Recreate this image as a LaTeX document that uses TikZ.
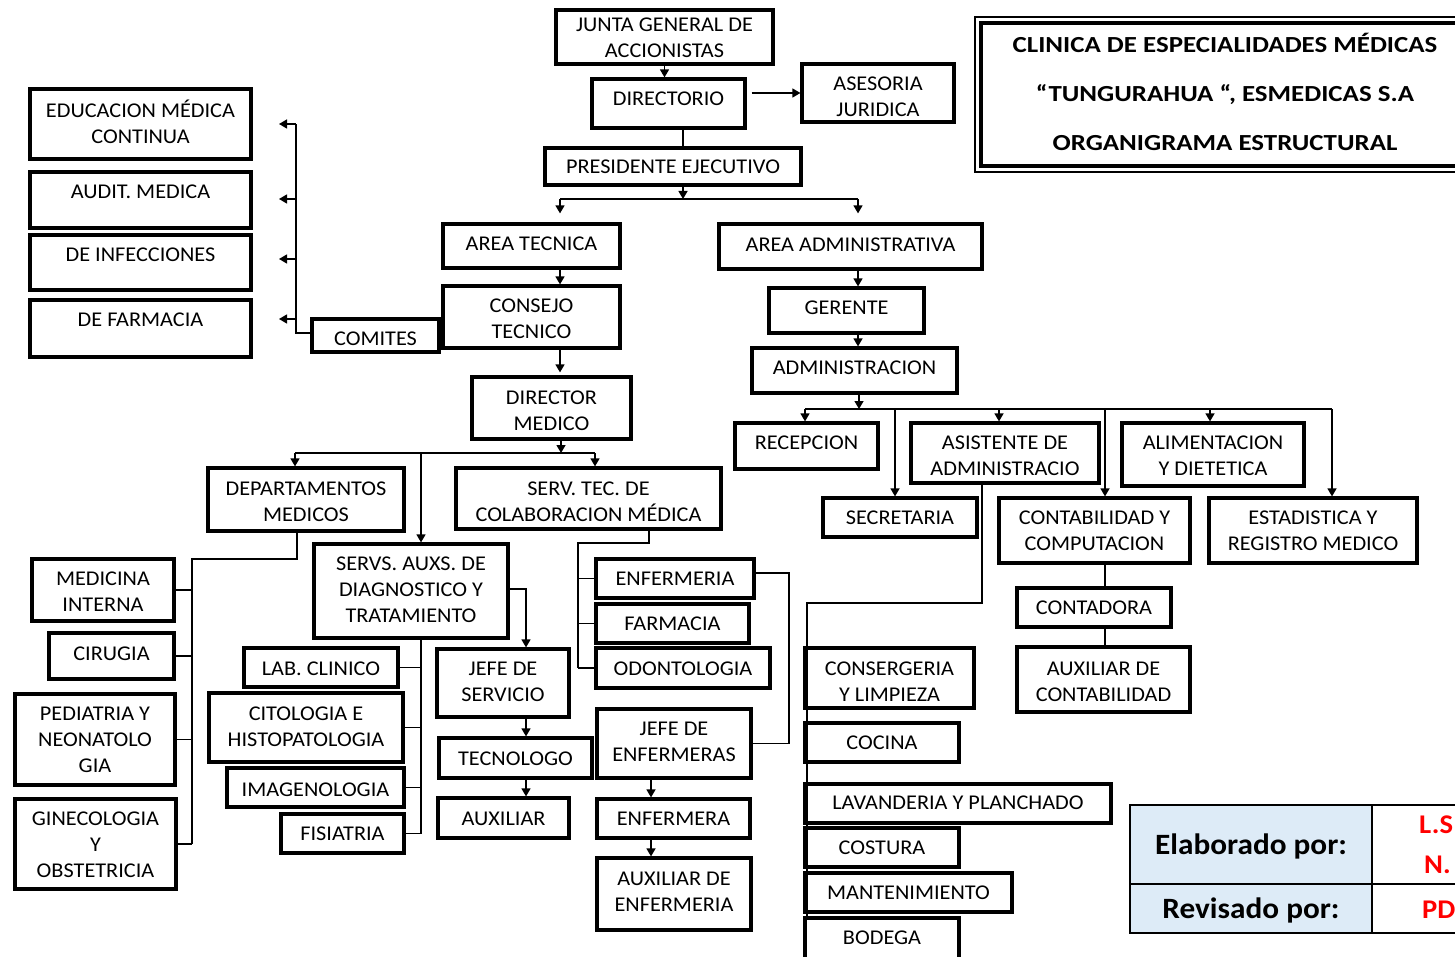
\documentclass[tikz,border=0pt]{standalone}
\usepackage{fontspec}
\setmainfont{Carlito}[FakeStretch=1.06]
\newfontfamily\titlefont{Carlito}[FakeStretch=1.17]
\usetikzlibrary{arrows.meta}
\definecolor{cellblue}{HTML}{DDEBF7}
\tikzset{
  box/.style={draw, line width=3.2pt, inner sep=0pt},
  txt/.style={font=\fontsize{21}{26}\selectfont, align=center, inner sep=0pt},
  link/.style={line width=1.4pt},
  arr/.style={link, -{Triangle[width=9pt,length=8pt]}},
  cell/.style={draw, line width=2.2pt, outer sep=0pt, inner sep=0pt, text depth=0pt,
    font=\bfseries\fontsize{29.5}{32}\selectfont},
  redtxt/.style={text=red, inner sep=0pt, font=\bfseries\fontsize{27}{30}\selectfont},
}
% \bx{name}{left}{top}{right}{bottom}{text centre y}{text}
\newcommand\bx[7]{%
  \node[box, minimum width={#4-#2}, minimum height={#5-#3},
    label={[txt, yshift={(#3+#5)/2-#6}]center:{#7}}]
    (#1) at ({(#2+#4)/2},{(#3+#5)/2}) {};}
\begin{document}
\begin{tikzpicture}[x=1pt,y=-1pt]
\useasboundingbox (0,0) rectangle (1455,957);
\fill[white] (0,0) rectangle (1455,957);

% governing bodies
\bx{junta}{556}{10}{773}{64}{38}{JUNTA GENERAL DE\\ACCIONISTAS}
\bx{dir}{592}{79}{745}{128}{99}{DIRECTORIO}
\bx{ases}{802}{64}{954}{122}{97}{ASESORIA\\JURIDICA}
\bx{pres}{545}{148}{801}{185}{167}{PRESIDENTE EJECUTIVO}

% technical area
\bx{atec}{443}{224}{620}{268}{244}{AREA TECNICA}
\bx{cons}{443}{286}{620}{348}{319}{CONSEJO\\TECNICO}
\bx{comi}{312}{319}{439}{352}{339}{COMITES}
\bx{educ}{30}{89}{251}{159}{122}{EDUCACION MÉDICA\\CONTINUA}
\bx{audi}{30}{172}{251}{228}{192}{AUDIT. MEDICA}
\bx{infe}{30}{235}{251}{290}{255}{DE INFECCIONES}
\bx{farm}{30}{300}{251}{357}{320}{DE FARMACIA}
\bx{dmed}{472}{377}{631}{439}{411}{DIRECTOR\\MEDICO}

% administrative area
\bx{aadm}{719}{224}{982}{269}{245}{AREA ADMINISTRATIVA}
\bx{gere}{769}{288}{924}{333}{308}{GERENTE}
\bx{admi}{752}{348}{957}{393}{368}{ADMINISTRACION}
\bx{rece}{735}{423}{878}{469}{443}{RECEPCION}
\bx{asis}{911}{423}{1099}{483}{456}{ASISTENTE DE\\ADMINISTRACIO}
\bx{alim}{1122}{423}{1304}{486}{456}{ALIMENTACION\\Y DIETETICA}
\bx{secr}{823}{498}{977}{537}{518}{SECRETARIA}
\bx{cont}{999}{498}{1190}{563}{531}{CONTABILIDAD Y\\COMPUTACION}
\bx{esta}{1209}{498}{1417}{563}{531}{ESTADISTICA Y\\REGISTRO MEDICO}
\bx{ctdr}{1017}{588}{1171}{627}{608}{CONTADORA}
\bx{auxc}{1017}{647}{1190}{712}{682}{AUXILIAR DE\\CONTABILIDAD}
\bx{cnsg}{805}{648}{974}{708}{682}{CONSERGERIA\\Y LIMPIEZA}
\bx{coci}{805}{723}{959}{762}{743}{COCINA}
\bx{lava}{805}{784}{1111}{823}{803}{LAVANDERIA Y PLANCHADO}
\bx{cost}{805}{828}{959}{867}{848}{COSTURA}
\bx{mant}{805}{873}{1012}{912}{893}{MANTENIMIENTO}
\bx{bode}{805}{918}{959}{962}{938}{BODEGA}

% medical direction
\bx{dpto}{208}{468}{404}{531}{502}{DEPARTAMENTOS\\MEDICOS}
\bx{stec}{456}{468}{721}{529}{502}{SERV. TEC. DE\\COLABORACION MÉDICA}
\bx{saux}{314}{544}{508}{638}{590}{SERVS. AUXS. DE\\DIAGNOSTICO Y\\TRATAMIENTO}
\bx{mint}{32}{559}{174}{621}{592}{MEDICINA\\INTERNA}
\bx{ciru}{49}{633}{174}{679}{654}{CIRUGIA}
\bx{pedi}{15}{694}{175}{785}{740}{PEDIATRIA Y\\NEONATOLO\\GIA}
\bx{gine}{15}{799}{176}{889}{845}{GINECOLOGIA\\Y\\OBSTETRICIA}
\bx{labc}{244}{648}{398}{687}{669}{LAB. CLINICO}
\bx{cito}{209}{693}{403}{762}{727}{CITOLOGIA E\\HISTOPATOLOGIA}
\bx{imag}{227}{768}{404}{807}{790}{IMAGENOLOGIA}
\bx{fisi}{281}{814}{404}{853}{834}{FISIATRIA}
\bx{jser}{437}{649}{569}{717}{682}{JEFE DE\\SERVICIO}
\bx{tecn}{439}{738}{592}{778}{759}{TECNOLOGO}
\bx{auxi}{438}{798}{569}{838}{819}{AUXILIAR}
\bx{enfa}{596}{559}{754}{598}{579}{ENFERMERIA}
\bx{farc}{596}{604}{749}{643}{624}{FARMACIA}
\bx{odon}{596}{648}{770}{688}{669}{ODONTOLOGIA}
\bx{jenf}{597}{709}{751}{778}{742}{JEFE DE\\ENFERMERAS}
\bx{enfe}{597}{799}{750}{838}{819}{ENFERMERA}
\bx{auxe}{597}{858}{751}{930}{892}{AUXILIAR DE\\ENFERMERIA}

% connectors: governing bodies
\coordinate (pb) at (683,199);
\coordinate (pl) at (560,199);
\coordinate (pr) at (858,199);
\draw[arr] (junta.south) -- (junta.south |- dir.north);
\draw[arr, shorten <=5pt] (dir.east |- ases.west) -- (ases.west);
\draw[link] (dir.south -| pb) -- (pres.north -| pb);
\draw[arr] (pres.south -| pb) -- (pb);
\draw[link] (pl) -- (pr);
\draw[arr, shorten >=9pt] (pl) -- (pl |- atec.north);
\draw[arr, shorten >=9pt] (pr) -- (pr |- aadm.north);

% connectors: technical area and committees
\draw[arr] (atec.south -| pl) -- (cons.north -| pl);
\draw[arr, shorten >=3pt] (cons.south -| pl) -- (dmed.north -| pl);
\draw[link] (comi.east) -- (comi.east -| cons.west);
\coordinate (cb) at (296,333);
\coordinate (c1) at (279,124);
\coordinate (c2) at (279,199);
\coordinate (c3) at (279,259);
\coordinate (c4) at (279,319);
\draw[link] (comi.west |- cb) -- (cb) -- (cb |- c1);
\foreach \c in {c1,c2,c3,c4} \draw[arr] (cb |- \c) -- (\c);

% connectors: medical direction
\coordinate (mb) at (561,453);
\coordinate (ml) at (295,453);
\coordinate (mm) at (421,453);
\coordinate (mr) at (595,453);
\draw[arr] (dmed.south -| mb) -- (mb);
\draw[link] (ml) -- (mr);
\draw[arr] (ml) -- (dpto.north -| ml);
\draw[arr] (mm) -- (saux.north -| mm);
\draw[arr] (mr) -- (stec.north -| mr);

\coordinate (d1) at (297,559);
\coordinate (d2) at (192,559);
\draw[link] (dpto.south -| d1) -- (d1) -- (d2) -- (d2 |- gine.east);
\foreach \n in {mint,ciru,pedi,gine} \draw[link] (d2 |- \n.east) -- (\n.east);

\draw[link] (saux.south -| mm) -- (fisi.east -| mm);
\foreach \n in {labc,cito,imag,fisi} \draw[link] (mm |- \n.east) -- (\n.east);
\coordinate (j1) at (526,589);
\draw[arr] (saux.east |- j1) -- (j1) -- (jser.north -| j1);
\draw[arr] (jser.south -| j1) -- (tecn.north -| j1);
\draw[arr] (tecn.south -| j1) -- (auxi.north -| j1);

\coordinate (t1) at (649,543);
\coordinate (t2) at (578,543);
\draw[link] (stec.south -| t1) -- (t1) -- (t2) -- (t2 |- odon.west);
\foreach \n in {enfa,farc,odon} \draw[link] (t2 |- \n.west) -- (\n.west);
\coordinate (e1) at (789,573);
\draw[link] (enfa.east |- e1) -- (e1) -- (e1 |- jenf.east) -- (jenf.east);
\coordinate (n1) at (651,0);
\draw[arr] (jenf.south -| n1) -- (enfe.north -| n1);
\draw[arr] (enfe.south -| n1) -- (auxe.north -| n1);

% connectors: administrative area
\draw[arr] (aadm.south -| pr) -- (gere.north -| pr);
\draw[arr] (gere.south -| pr) -- (admi.north -| pr);
\coordinate (ab) at (859,409);
\coordinate (al) at (805,409);
\coordinate (ar) at (1332,409);
\coordinate (a1) at (895,409);
\coordinate (a2) at (1105,409);
\coordinate (a3) at (999,409);
\coordinate (a4) at (1210,409);
\draw[arr] (admi.south -| ab) -- (ab);
\draw[link] (al) -- (ar);
\draw[arr] (al) -- (rece.north -| al);
\draw[arr] (a3) -- (asis.north -| a3);
\draw[arr] (a4) -- (alim.north -| a4);
\draw[arr] (a1) -- (secr.north -| a1);
\draw[arr] (a2) -- (cont.north -| a2);
\draw[arr] (ar) -- (esta.north -| ar);
\draw[link] (cont.south -| a2) -- (ctdr.north -| a2);
\draw[link] (ctdr.south -| a2) -- (auxc.north -| a2);
\coordinate (s1) at (982,603);
\coordinate (s2) at (807,603);
\draw[link] (asis.south -| s1) -- (s1) -- (s2) -- (s2 |- bode.north);

% title frame
\node[draw, line width=1.3pt, minimum width=500, minimum height=155] (frame) at (1225,94.5) {};
\node[draw, line width=3.8pt, minimum width=488, minimum height=143, inner sep=0pt,
  label={[align=center, inner sep=0pt, yshift=2.5pt,
    font=\titlefont\bfseries\fontsize{23}{49}\selectfont]center:{CLINICA DE ESPECIALIDADES MÉDICAS\\“TUNGURAHUA “, ESMEDICAS S.A\\ORGANIGRAMA ESTRUCTURAL}}]
  (title) at (1225,94.5) {};

% sign-off table
\node[cell, fill=cellblue, minimum width=242, minimum height=79] (elab) at (1251,844.5) {Elaborado por:};
\node[cell, fill=cellblue, minimum width=242, minimum height=49] (revi) at (1251,908.5) {Revisado por:};
\node[cell, minimum width=200, minimum height=79, anchor=west] (elabv) at (elab.east) {};
\node[cell, minimum width=200, minimum height=49, anchor=west] (reviv) at (revi.east) {};
\node[redtxt, anchor=base west] (ls) at (1419,833) {L.S};
\node[redtxt, anchor=base west] (nt) at (1424,873) {N.};
\node[redtxt, anchor=base west] (pd) at (1422,918) {PD};
\end{tikzpicture}
\end{document}
